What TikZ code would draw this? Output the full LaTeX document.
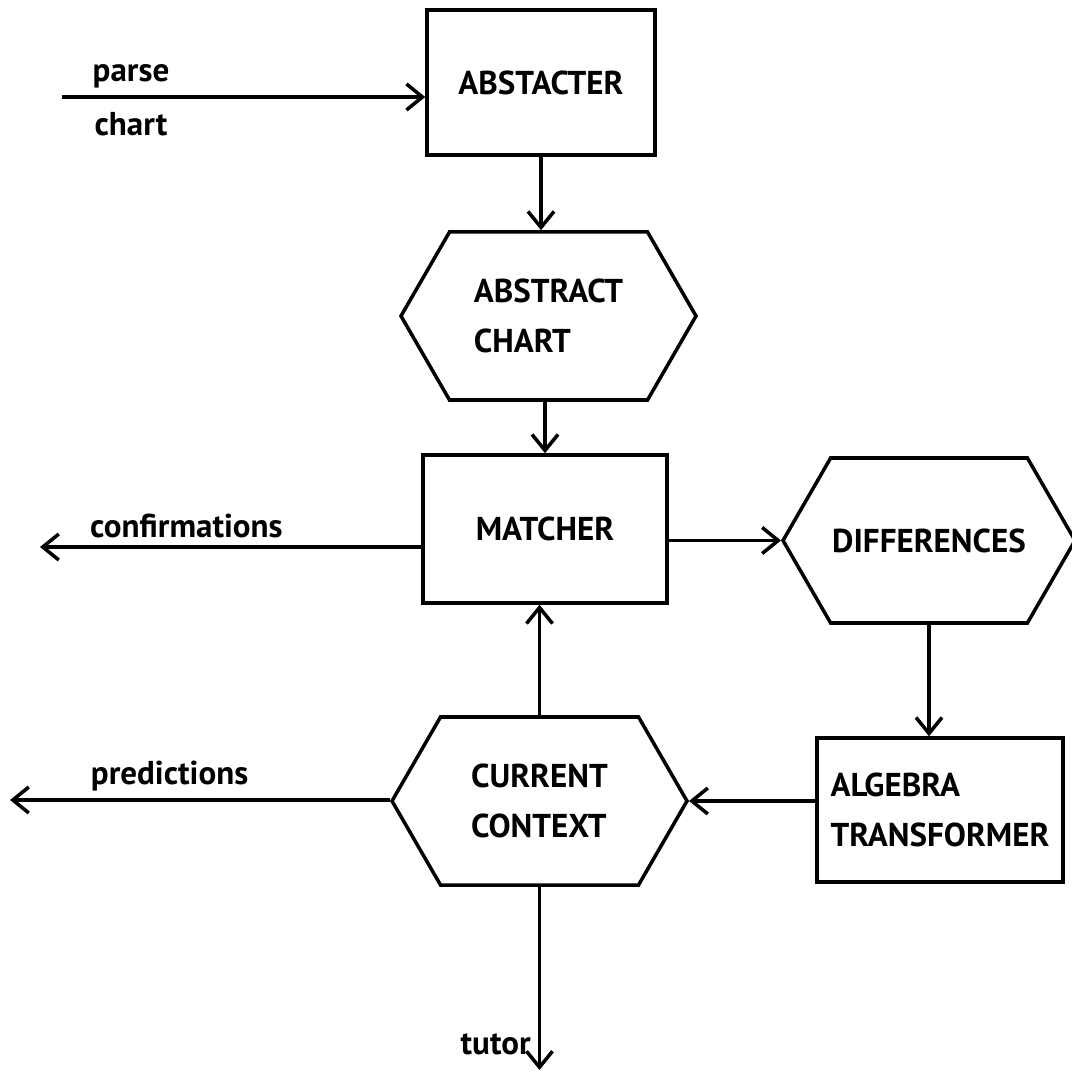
\documentclass[tikz,border=0pt]{standalone}
\usepackage{fontspec}
\setmainfont{PT Sans}
\usetikzlibrary{shapes, arrows.meta, positioning, calc}

\tikzset{
  procbox/.style={draw, line width=1pt, align=left, inner sep=0pt},
  databox/.style={draw, line width=1pt, shape=signal, signal to=west and east,
    signal pointer angle=120, minimum width=2.95cm, minimum height=1.68cm,
    inner sep=0pt, align=left},
  flow/.style={line width=1pt, -{Straight Barb[length=1.6mm, width=2.6mm]}},
  lbl/.style={inner sep=2pt}
}

\begin{document}
\begin{tikzpicture}[font=\fontsize{9.4}{14.2}\selectfont\bfseries]
  \useasboundingbox (0, 0) rectangle (10.72, -10.72);

  % processes
  \node[procbox, minimum width=2.28cm, minimum height=1.45cm] (abstracter) at (5.41, -0.825) {ABSTACTER};
  \node[procbox, minimum width=2.44cm, minimum height=1.48cm] (matcher) at (5.45, -5.29) {MATCHER};
  \node[procbox, minimum width=2.46cm, minimum height=1.44cm] (algebra) at (9.40, -8.10) {ALGEBRA\\TRANSFORMER};

  % data
  \node[databox] (abschart) at (5.485, -3.16) {ABSTRACT\\CHART};
  \node[databox, minimum width=2.92cm, minimum height=1.65cm] (differences) at (9.29, -5.405) {DIFFERENCES};
  \node[databox] (context) at (5.395, -8.01) {CURRENT\\CONTEXT};

  % loose ends
  \coordinate (parsein) at (0.62, -0.97);
  \coordinate (confout) at (0.40, -5.47);
  \coordinate (predout) at (0.10, -8.00);
  \coordinate (tutorout) at (5.42, -10.70);

  \draw[flow] (parsein) -- node[lbl, above, pos=0.19] (parse) {parse}
    node[lbl, below, pos=0.19, yshift=-0.07cm] (chart) {chart} (parsein -| abstracter.west);
  \draw[flow] (abstracter.south) -- (abstracter.south |- abschart.north);
  \draw[flow] (matcher.north |- abschart.south) -- (matcher.north);
  \draw[flow] (confout -| matcher.west) -- node[lbl, above, pos=0.616] (conf) {confirmations} (confout);
  \draw[flow] (differences.west -| matcher.east) -- (differences.west);
  \draw[flow] (differences.south) -- (differences.south |- algebra.north);
  \draw[flow] (context.east -| algebra.west) -- (context.east);
  \draw[flow] (context.north) -- (context.north |- matcher.south);
  \draw[flow] (predout -| context.west) -- node[lbl, above, pos=0.58] (pred) {predictions} (predout);
  \draw[flow] (context.south) -- node[lbl, left, pos=0.86] (tutor) {tutor} (tutorout -| context.south);
\end{tikzpicture}
\end{document}
